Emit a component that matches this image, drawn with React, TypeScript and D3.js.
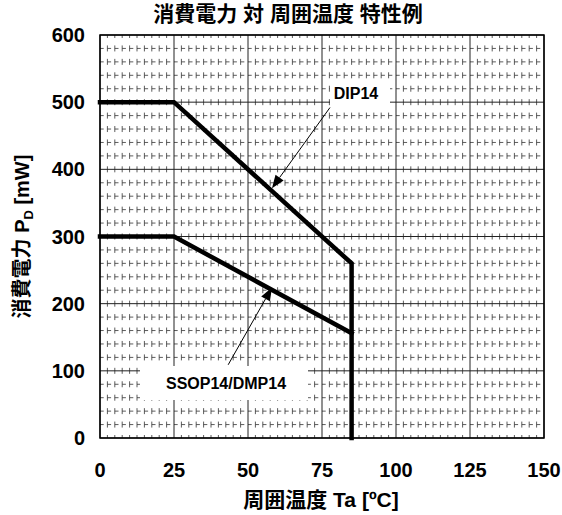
import React from "react";
import * as d3 from "d3";

// Power dissipation vs. ambient temperature derating curves
const xTicks = [0, 25, 50, 75, 100, 125, 150];
const yTicks = [0, 100, 200, 300, 400, 500, 600];

const dipTa = [0, 25, 85, 85];
const dipPd = [500, 500, 260, 0];

const ssopTa = [0, 25, 85];
const ssopPd = [300, 300, 156];

// annotation arrows: [tail Ta, tail Pd, head Ta, head Pd]
const dipArrow = [77.7, 492, 58.1, 372];
const ssopArrow = [43.3, 109, 58.1, 224];

const W = 562;
const H = 515;
const plot = { left: 100, right: 544, top: 35, bottom: 438 };

const FONT = "'Liberation Sans', Arial, 'Noto Sans CJK JP', sans-serif";

export default function App() {
  const x = d3.scaleLinear().domain([0, 150]).range([plot.left, plot.right]);
  const y = d3.scaleLinear().domain([0, 600]).range([plot.bottom, plot.top]);

  const minorX = d3.range(0, 150.001, 2.5).filter((v) => v % 25 !== 0);
  const minorY = d3.range(0, 600.001, 20).filter((v) => v % 100 !== 0);

  const line = d3
    .line<[number, number]>()
    .x((d) => x(d[0]))
    .y((d) => y(d[1]));

  const dipPts = dipTa.map((t, i) => [t, dipPd[i]] as [number, number]);
  const ssopPts = ssopTa.map((t, i) => [t, ssopPd[i]] as [number, number]);

  const rowStep = y(0) - y(20);
  const colStep = x(2.5) - x(0);

  const arrow = (a: number[], key: string) => {
    const x1 = x(a[0]);
    const y1 = y(a[1]);
    const x2 = x(a[2]);
    const y2 = y(a[3]);
    const ang = Math.atan2(y2 - y1, x2 - x1);
    const len = 13;
    const half = 5;
    const bx = x2 - len * Math.cos(ang);
    const by = y2 - len * Math.sin(ang);
    const px = -Math.sin(ang) * half;
    const py = Math.cos(ang) * half;
    return (
      <g key={key}>
        <line x1={x1} y1={y1} x2={bx} y2={by} stroke="#000" strokeWidth={1} />
        <polygon
          points={`${x2},${y2} ${bx + px},${by + py} ${bx - px},${by - py}`}
          fill="#000"
        />
      </g>
    );
  };

  return (
    <svg
      width={W}
      height={H}
      style={{ position: "absolute", left: 0, top: 0, background: "#fff" }}
      fontFamily={FONT}
    >
      <rect x={0} y={0} width={W} height={H} fill="#fff" />

      {/* minor grid */}
      <g stroke="#333" strokeWidth={0.8}>
        {minorX.map((v) => (
          <line
            key={"mx" + v}
            x1={x(v)}
            x2={x(v)}
            y1={plot.top}
            y2={plot.bottom}
            strokeDasharray={`6 ${rowStep - 6}`}
            strokeDashoffset={3}
          />
        ))}
        {minorY.map((v) => (
          <line
            key={"my" + v}
            x1={plot.left}
            x2={plot.right}
            y1={y(v)}
            y2={y(v)}
            strokeDasharray={`${colStep * 0.5} ${colStep * 0.5}`}
          />
        ))}
      </g>

      {/* major grid */}
      <g stroke="#222" strokeWidth={1}>
        {xTicks.map((v) => (
          <line key={"gx" + v} x1={x(v)} x2={x(v)} y1={plot.top} y2={plot.bottom} />
        ))}
        {yTicks.map((v) => (
          <line key={"gy" + v} x1={plot.left} x2={plot.right} y1={y(v)} y2={y(v)} />
        ))}
      </g>

      {/* label boxes */}
      <rect x={330} y={80} width={60} height={27} fill="#fff" />
      <rect x={140} y={366} width={168} height={34} fill="#fff" />

      <rect
        x={plot.left}
        y={plot.top}
        width={plot.right - plot.left}
        height={plot.bottom - plot.top}
        fill="none"
        stroke="#000"
        strokeWidth={1.5}
      />

      {/* derating curves */}
      <g fill="none" stroke="#000" strokeWidth={4.5} strokeLinecap="square" strokeLinejoin="miter">
        <path d={line(dipPts) ?? ""} />
        <path d={line(ssopPts) ?? ""} />
      </g>

      {arrow(dipArrow, "dip")}
      {arrow(ssopArrow, "ssop")}

      <g fontWeight="bold" fontSize={16} textAnchor="middle" fill="#000">
        <text x={356} y={99}>DIP14</text>
        <text x={226} y={389}>SSOP14/DMP14</text>
      </g>

      {/* tick labels */}
      <g fontWeight="bold" fontSize={20} fill="#000">
        {xTicks.map((v) => (
          <text key={"tx" + v} x={x(v)} y={477} textAnchor="middle">
            {v}
          </text>
        ))}
        {yTicks.map((v) => (
          <text key={"ty" + v} x={85} y={y(v) + 7} textAnchor="end">
            {v}
          </text>
        ))}
      </g>

      {/* titles */}
      <text x={288} y={21} textAnchor="middle" fontWeight="bold" fontSize={21}>
        消費電力 対 周囲温度 特性例
      </text>
      <text x={321} y={507} textAnchor="middle" fontWeight="bold" fontSize={21}>
        周囲温度 Ta [ºC]
      </text>
      <text
        transform={`translate(29, ${(plot.top + plot.bottom) / 2}) rotate(-90)`}
        textAnchor="middle"
        fontWeight="bold"
        fontSize={20}
      >
        消費電力 P
        <tspan fontSize={13} dy={4}>D</tspan>
        <tspan dy={-4}> [mW]</tspan>
      </text>
    </svg>
  );
}
